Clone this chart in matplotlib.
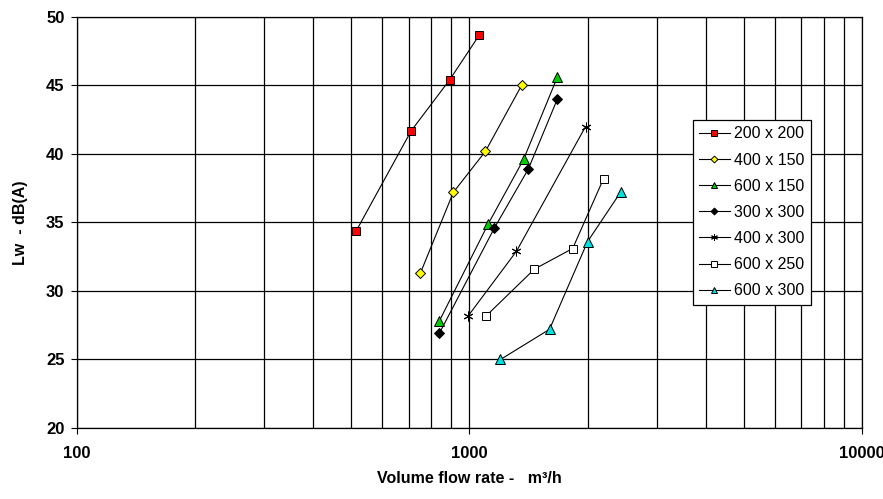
import matplotlib
matplotlib.use("Agg")
import matplotlib.pyplot as plt
import numpy as np

plt.rcParams['font.family'] = ['Liberation Sans', 'DejaVu Sans']

labels = ["200 x 200", "400 x 150", "600 x 150", "300 x 300", "400 x 300", "600 x 250", "600 x 300"]
x_200x200 = [515, 711, 890, 1061]
y_200x200 = [34.4, 41.7, 45.4, 48.7]
x_400x150 = [750, 910, 1099, 1358]
y_400x150 = [31.3, 37.2, 40.2, 45.0]
x_600x150 = [838, 1117, 1374, 1675]
y_600x150 = [27.8, 34.9, 39.6, 45.6]
x_300x300 = [838, 1158, 1413, 1675]
y_300x300 = [26.9, 34.6, 38.9, 44.0]
x_400x300 = [994, 1318, 1977]
y_400x300 = [28.2, 32.9, 42.0]
x_600x250 = [1105, 1465, 1833, 2197]
y_600x250 = [28.2, 31.6, 33.1, 38.2]
x_600x300 = [1200, 1600, 2000, 2427]
y_600x300 = [25.0, 27.2, 33.6, 37.2]

xs = [x_200x200, x_400x150, x_600x150, x_300x300, x_400x300, x_600x250, x_600x300]
ys = [y_200x200, y_400x150, y_600x150, y_300x300, y_400x300, y_600x250, y_600x300]
markers = ['s', 'D', '^', 'D', (6, 2, 0), 's', '^']
faces = ['#ff0000', '#ffff00', '#00cc00', '#000000', 'none', '#ffffff', '#00e0e0']
sizes = [6, 5, 7, 5, 7, 6, 7]

fig = plt.figure(figsize=(8.83, 4.99), dpi=100)
ax = fig.add_axes([0.0872, 0.1423, 0.976 - 0.0872, 0.966 - 0.1423])
ax.set_xscale('log')
ax.set_xlim(100, 10000)
ax.set_ylim(20, 50)

for x, y, lab, m, fc, s in zip(xs, ys, labels, markers, faces, sizes):
    ax.plot(x, y, color='black', lw=0.8, marker=m, markersize=s,
            markerfacecolor=fc, markeredgecolor='black', markeredgewidth=0.7,
            label=lab, zorder=3)

ax.grid(True, which='both', axis='x', color='black', lw=0.9)
ax.grid(True, which='major', axis='y', color='black', lw=0.9)
ax.set_yticks(np.arange(20, 51, 5))
ax.set_xticks([100, 1000, 10000])
ax.set_xticklabels(['100', '1000', '10000'])
ax.xaxis.set_minor_formatter(matplotlib.ticker.NullFormatter())
ax.tick_params(axis='x', which='minor', length=0)
ax.tick_params(axis='x', which='major', length=4, direction='out', pad=9, labelsize=12)
ax.tick_params(axis='y', which='major', length=4, direction='out', pad=5, labelsize=12)
for t in ax.get_xticklabels() + ax.get_yticklabels():
    t.set_fontweight('bold')
for sp in ax.spines.values():
    sp.set_color('black')
    sp.set_linewidth(0.9)

ax.set_xlabel('Volume flow rate -   m³/h', fontsize=11.5, fontweight='bold', labelpad=7)
ax.set_ylabel('Lw  - dB(A)', fontsize=11.5, fontweight='bold', labelpad=13)

leg = ax.legend(loc='upper left', bbox_to_anchor=((693 - 77) / 785, 1 - (120 - 17) / 411),
                frameon=True, fancybox=False, edgecolor='black', framealpha=1,
                fontsize=11.5, handlelength=1.9, labelspacing=0.7, borderpad=0.4,
                borderaxespad=0, handletextpad=0.3, markerscale=0.7)
leg.get_frame().set_linewidth(0.9)

fig.savefig('out.png', dpi=100)
